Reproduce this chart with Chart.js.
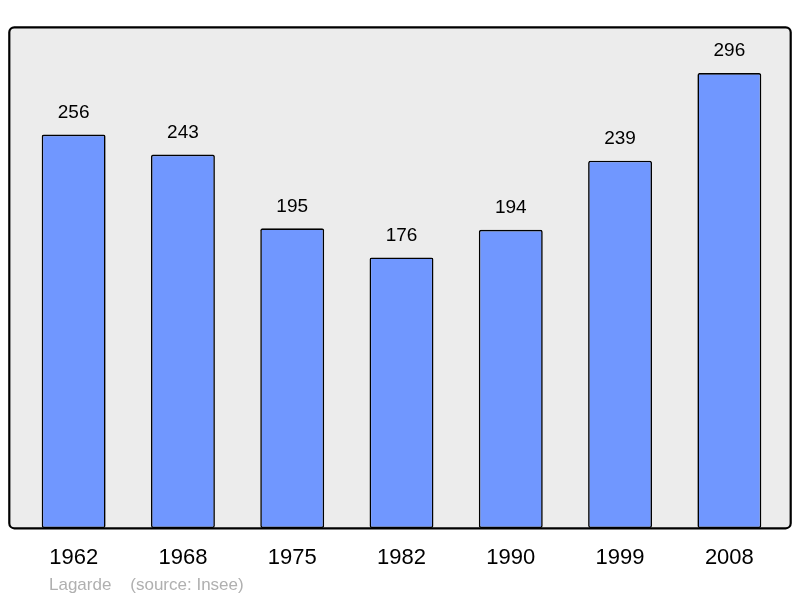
<!DOCTYPE html>
<html>
<head>
<meta charset="utf-8">
<script src="https://cdn.jsdelivr.net/npm/chart.js@4"></script>
<style>
  body { margin: 0; background: #fff; }
</style>
</head>
<body>
<canvas id="myChart" width="800" height="598"></canvas>
<script>
const years = ['1962', '1968', '1975', '1982', '1990', '1999', '2008'];
const population = [256, 243, 195, 176, 194, 239, 296];
const footerText = 'Lagarde    (source: Insee)';

// grey box behind bars, black frame, value labels, footer
const decor = {
  id: 'decor',
  beforeDatasetsDraw(chart) {
    const c = chart.ctx, a = chart.chartArea;
    c.save();
    c.beginPath();
    c.roundRect(9.3, a.top + 0.3, 781.4, a.bottom - a.top, 5);
    c.fillStyle = '#ececec';
    c.fill();
    c.restore();
  },
  afterDatasetsDraw(chart) {
    const c = chart.ctx, a = chart.chartArea;
    c.save();
    c.beginPath();
    c.roundRect(9.3, a.top + 0.3, 781.4, a.bottom - a.top, 5);
    c.lineWidth = 2.2;
    c.strokeStyle = '#000';
    c.stroke();

    c.fillStyle = '#000';
    c.font = '19px "Liberation Sans", Arial, sans-serif';
    c.textAlign = 'center';
    c.textBaseline = 'middle';
    chart.getDatasetMeta(0).data.forEach((bar, i) => {
      c.fillText(String(population[i]), bar.x, bar.y - 22);
    });

    c.fillStyle = '#b0b0b0';
    c.font = '17px "Liberation Sans", Arial, sans-serif';
    c.textAlign = 'left';
    c.fillText(footerText, 49, 585);
    c.restore();
  }
};

new Chart(document.getElementById('myChart'), {
  type: 'bar',
  data: {
    labels: years,
    datasets: [{
      data: population,
      backgroundColor: '#7097ff',
      borderColor: '#000',
      borderWidth: 1.6,
      borderRadius: 2,
      borderSkipped: false,
      barPercentage: 0.585,
      categoryPercentage: 1
    }]
  },
  options: {
    responsive: false,
    animation: false,
    devicePixelRatio: 1,
    layout: { padding: { left: 19, right: 16, top: 27, bottom: 9.6 } },
    scales: {
      y: { display: false, min: 0, max: 326 },
      x: {
        grid: { display: false, drawTicks: false },
        border: { display: false },
        ticks: {
          padding: 17,
          color: '#000',
          font: { size: 22, family: '"Liberation Sans", Arial, sans-serif' }
        }
      }
    },
    plugins: {
      legend: { display: false },
      tooltip: { enabled: false }
    }
  },
  plugins: [decor]
});
</script>
</body>
</html>
